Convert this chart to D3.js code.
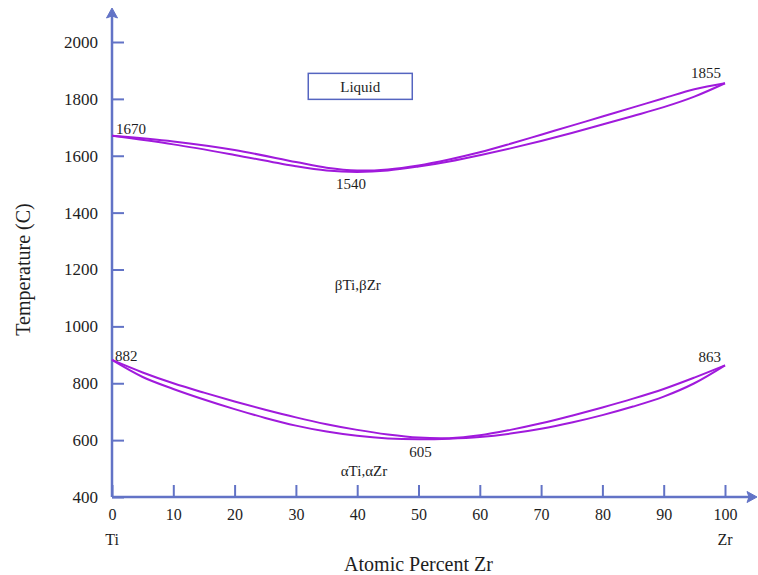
<!DOCTYPE html>
<html>
<head>
<meta charset="utf-8">
<script src="https://cdn.jsdelivr.net/npm/d3@7"></script>
<style>
    body { margin: 0; background: #fff; }
    #chart-area { width: 758px; height: 575px; }
    text { font-family: "Liberation Serif", "DejaVu Serif", serif; fill: #1e1e1e; }
</style>
</head>
<body>
<div id="chart-area"></div>
<script>
/*
 * Ti - Zr phase diagram
 * values: [atomic % Zr, temperature C]
 */

const liquidus = [[0, 1670], [10, 1650], [20, 1620], [30, 1578], [35, 1558], [40, 1548], [45, 1552], [50, 1566],
    [55, 1587], [60, 1612], [65, 1642], [70, 1674], [75, 1706], [80, 1738], [85, 1770], [90, 1802], [95, 1834],
    [100, 1855]];
const solidus = [[0, 1670], [10, 1640], [20, 1603], [30, 1563], [35, 1548], [40, 1543], [45, 1548], [50, 1562],
    [55, 1580], [60, 1602], [65, 1626], [70, 1652], [75, 1680], [80, 1710], [85, 1740], [90, 1771], [95, 1808],
    [100, 1855]];

const betaTransus = [[0, 882], [5, 838], [10, 800], [15, 767], [20, 736], [25, 707], [30, 680], [35, 656], [40, 636],
    [45, 620], [50, 609], [55, 607], [60, 617], [65, 636], [70, 659], [75, 686], [80, 715], [85, 746], [90, 780],
    [95, 820], [100, 863]];
const alphaTransus = [[0, 882], [5, 822], [10, 780], [15, 743], [20, 709], [25, 678], [30, 651], [35, 630], [40, 615],
    [45, 606], [50, 603], [55, 605], [60, 611], [65, 623], [70, 640], [75, 662], [80, 688], [85, 718], [90, 753],
    [95, 800], [100, 863]];

const xTicks = [0, 10, 20, 30, 40, 50, 60, 70, 80, 90, 100];
const yTicks = [400, 600, 800, 1000, 1200, 1400, 1600, 1800, 2000];

// special points: label, % Zr, temperature
const pointLabels = [["1670", 0, 1670], ["1540", 39, 1540], ["1855", 100, 1855],
    ["882", 0, 882], ["605", 50, 605], ["863", 100, 863]];

// phase region names: label, % Zr, temperature
const regionLabels = [["Liquid", 40.5, 1844], ["βTi,βZr", 40.1, 1145], ["αTi,αZr", 41.1, 491]];

const elementLabels = [["Ti", 0], ["Zr", 100]];


class PhaseVis {
    constructor(parentElement) {
        this.parentElement = parentElement;
        this.initVis();
    }

    initVis() {
        let vis = this;

        vis.axisColor = '#6273c6';
        vis.lineColor = '#a01adc';

        vis.margin = {top: 42, right: 33, bottom: 78, left: 112};
        vis.width = 758 - vis.margin.left - vis.margin.right;
        vis.height = 575 - vis.margin.top - vis.margin.bottom;

        vis.svg = d3.select("#" + vis.parentElement).append("svg")
            .attr("width", vis.width + vis.margin.left + vis.margin.right)
            .attr("height", vis.height + vis.margin.top + vis.margin.bottom)
            .append('g')
            .attr('transform', `translate (${vis.margin.left}, ${vis.margin.top})`);

        vis.x = d3.scaleLinear().domain([0, 100]).range([0, vis.width]);
        vis.y = d3.scaleLinear().domain([400, 2000]).range([vis.height, 0]);

        vis.wrangleData();
    }

    wrangleData() {
        let vis = this;
        vis.lenses = [
            {name: 'liquidus', values: liquidus},
            {name: 'solidus', values: solidus},
            {name: 'beta', values: betaTransus},
            {name: 'alpha', values: alphaTransus}
        ];
        vis.updateVis();
    }

    updateVis() {
        let vis = this;

        // axes, ticks pointing into the plot
        let yAxis = d3.axisLeft(vis.y).tickValues(yTicks).tickFormat(d3.format('d'))
            .tickSizeInner(-12).tickSizeOuter(0).tickPadding(14);
        let xAxis = d3.axisBottom(vis.x).tickValues(xTicks).tickFormat(d3.format('d'))
            .tickSizeInner(-12).tickSizeOuter(0).tickPadding(12);

        let gy = vis.svg.append('g').attr('class', 'y-axis').call(yAxis);
        let gx = vis.svg.append('g').attr('class', 'x-axis')
            .attr('transform', `translate(0, ${vis.height})`).call(xAxis);

        [gx, gy].forEach(g => {
            g.select('.domain').remove();
            g.selectAll('.tick line').attr('stroke', vis.axisColor).attr('stroke-width', 2);
            g.selectAll('.tick text').style('font-size', '17px').attr('fill', '#1e1e1e');
        });
        gx.selectAll('.tick text').style('font-size', '16px');

        // axis lines with arrows
        vis.svg.append('line')
            .attr('x1', 0).attr('y1', vis.height).attr('x2', 0).attr('y2', -28)
            .attr('stroke', vis.axisColor).attr('stroke-width', 2.5);
        vis.svg.append('path')
            .attr('d', `M0,-34 L-5.5,-24 L0,-26 L5.5,-24 Z`)
            .attr('fill', vis.axisColor).attr('stroke', vis.axisColor).attr('stroke-width', 1);

        vis.svg.append('line')
            .attr('x1', 0).attr('y1', vis.height).attr('x2', vis.width + 27).attr('y2', vis.height)
            .attr('stroke', vis.axisColor).attr('stroke-width', 2.5);
        vis.svg.append('path')
            .attr('d', `M${vis.width + 32},${vis.height} L${vis.width + 22},${vis.height - 5.5} L${vis.width + 24},${vis.height} L${vis.width + 22},${vis.height + 5.5} Z`)
            .attr('fill', vis.axisColor).attr('stroke', vis.axisColor).attr('stroke-width', 1);

        // phase boundaries
        let line = d3.line()
            .x(d => vis.x(d[0]))
            .y(d => vis.y(d[1]))
            .curve(d3.curveCatmullRom.alpha(0.5));

        vis.svg.selectAll('.boundary')
            .data(vis.lenses)
            .enter().append('path')
            .attr('class', 'boundary')
            .attr('d', d => line(d.values))
            .attr('fill', 'none')
            .attr('stroke', vis.lineColor)
            .attr('stroke-width', 2);

        // labels at special points
        let nudge = {
            "1670": {dx: 4, dy: -2, anchor: 'start'},
            "1540": {dx: 0, dy: 16, anchor: 'middle'},
            "1855": {dx: -4, dy: -5, anchor: 'end'},
            "882": {dx: 3, dy: 1, anchor: 'start'},
            "605": {dx: 2, dy: 18, anchor: 'middle'},
            "863": {dx: -4, dy: -3, anchor: 'end'}
        };
        vis.svg.selectAll('.point-label')
            .data(pointLabels)
            .enter().append('text')
            .attr('class', 'point-label')
            .attr('x', d => vis.x(d[1]) + nudge[d[0]].dx)
            .attr('y', d => vis.y(d[2]) + nudge[d[0]].dy)
            .attr('text-anchor', d => nudge[d[0]].anchor)
            .style('font-size', '15px')
            .text(d => d[0]);

        // phase region names
        let regions = vis.svg.selectAll('.region-label')
            .data(regionLabels)
            .enter().append('g')
            .attr('class', 'region-label')
            .attr('transform', d => `translate(${vis.x(d[1])}, ${vis.y(d[2])})`);

        regions.filter(d => d[0] === 'Liquid').append('rect')
            .attr('x', -52).attr('y', -13).attr('width', 104).attr('height', 26)
            .attr('fill', 'none').attr('stroke', '#5565c0').attr('stroke-width', 1.5);

        regions.append('text')
            .attr('text-anchor', 'middle')
            .attr('dy', '0.35em')
            .style('font-size', '15px')
            .text(d => d[0]);

        // element names under the axis ends
        vis.svg.selectAll('.element-label')
            .data(elementLabels)
            .enter().append('text')
            .attr('class', 'element-label')
            .attr('x', d => vis.x(d[1]))
            .attr('y', vis.height + 48)
            .attr('text-anchor', 'middle')
            .style('font-size', '16px')
            .text(d => d[0]);

        // axis titles
        vis.svg.append('text')
            .attr('x', vis.x(50))
            .attr('y', vis.height + 74)
            .attr('text-anchor', 'middle')
            .style('font-size', '20px')
            .text('Atomic Percent Zr');

        vis.svg.append('text')
            .attr('transform', `translate(${-82}, ${vis.height / 2}) rotate(-90)`)
            .attr('text-anchor', 'middle')
            .style('font-size', '20px')
            .text('Temperature (C)');
    }
}

new PhaseVis("chart-area");
</script>
</body>
</html>
